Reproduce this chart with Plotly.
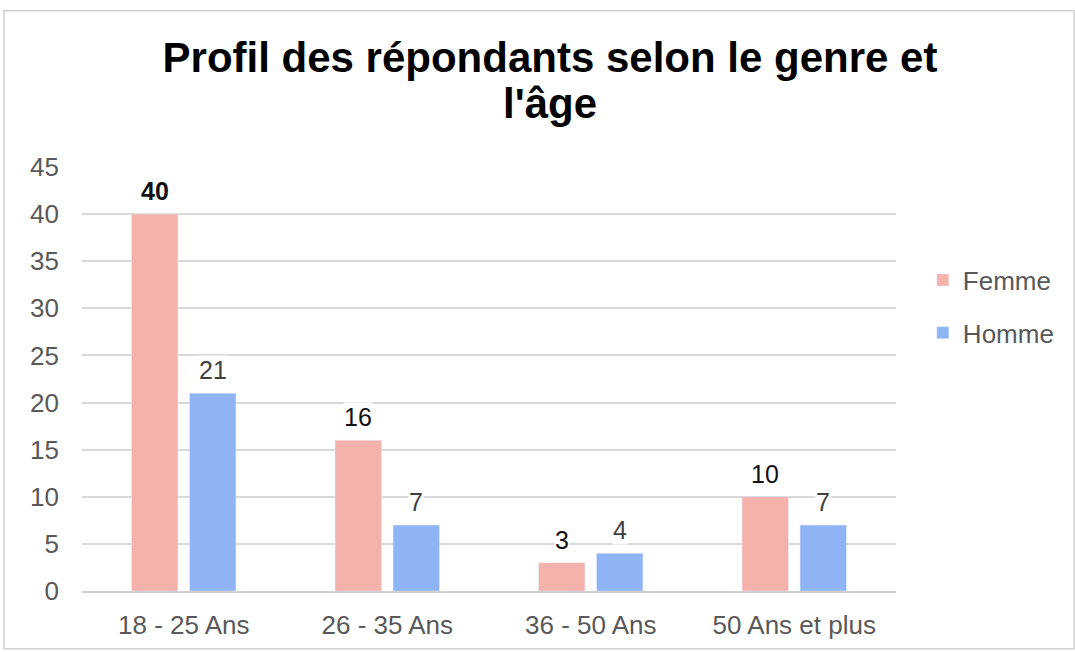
import plotly.graph_objects as go

categories = ["18 - 25 Ans", "26 - 35 Ans", "36 - 50 Ans", "50 Ans et plus"]
femme = [40, 16, 3, 10]
homme = [21, 7, 4, 7]
y_ticks = [0, 5, 10, 15, 20, 25, 30, 35, 40, 45]

FEMME_COLOR = "#F5B1AC"
HOMME_COLOR = "#8EB4F6"
FONT = "Liberation Sans, Arial, sans-serif"
W, H = 1075, 652
L, R, T, B = 82, 179, 167, 59
PW, PH = W - L - R, H - T - B


def px_x(x):
    """Pixel x -> paper x."""
    return (x - L) / PW


def px_y(y):
    """Pixel y (from top) -> paper y."""
    return (H - B - y) / PH


fig = go.Figure()
fig.add_trace(go.Bar(name="Femme", x=categories, y=femme, marker_color=FEMME_COLOR,
                     legendgroup="f"))
fig.add_trace(go.Bar(name="Homme", x=categories, y=homme, marker_color=HOMME_COLOR,
                     legendgroup="h"))

# value labels above each bar, on a white backing so gridlines break behind them
for series, shift, color in ((femme, -29, "#111111"), (homme, 29, "#404040")):
    for cat, val in zip(categories, series):
        txt = f"<b>{val}</b>" if series is femme and val == max(femme) else str(val)
        fig.add_annotation(
            x=cat, y=val, xref="x", yref="y", xshift=shift, yshift=8,
            yanchor="bottom", text=txt, showarrow=False, bgcolor="white",
            borderpad=0, font=dict(family=FONT, size=25, color=color),
        )

# second title line, set with tighter leading than a <br> would give
fig.add_annotation(x=px_x(550), y=px_y(103), xref="paper", yref="paper",
                   xanchor="center", yanchor="middle", showarrow=False,
                   text="<b>l'âge</b>",
                   font=dict(family=FONT, size=42, color="#000000"))

# outer chart border
fig.add_shape(type="rect", xref="paper", yref="paper",
              x0=px_x(4), x1=px_x(1074), y0=px_y(651), y1=px_y(10),
              line=dict(color="#D0D0D0", width=1.5), layer="below")

fig.update_layout(
    width=W, height=H,
    margin=dict(l=L, r=R, t=T, b=B),
    paper_bgcolor="white", plot_bgcolor="white",
    barmode="group", bargap=0.43, bargroupgap=0.2,
    title=dict(text="<b>Profil des répondants selon le genre et</b>",
               x=550 / W, xanchor="center", xref="container",
               y=1 - 57 / H, yanchor="middle", yref="container",
               font=dict(family=FONT, size=42, color="#000000")),
    legend=dict(x=1.033, y=0.671, xanchor="left", yanchor="middle",
                traceorder="grouped", tracegroupgap=16,
                font=dict(family=FONT, size=26, color="#595959"),
                itemwidth=30),
    showlegend=True,
)
fig.update_yaxes(range=[0, 45], tickvals=y_ticks, showgrid=True,
                 gridcolor="#D9D9D9", gridwidth=1.5, zeroline=False,
                 showline=False, ticks="", ticklabelstandoff=22,
                 tickfont=dict(family=FONT, size=26, color="#595959"))
fig.update_xaxes(showline=True, linecolor="#D0D0D0", linewidth=2,
                 ticks="", ticklabelstandoff=10,
                 tickfont=dict(family=FONT, size=26, color="#595959"))

fig.write_html("out.html")
